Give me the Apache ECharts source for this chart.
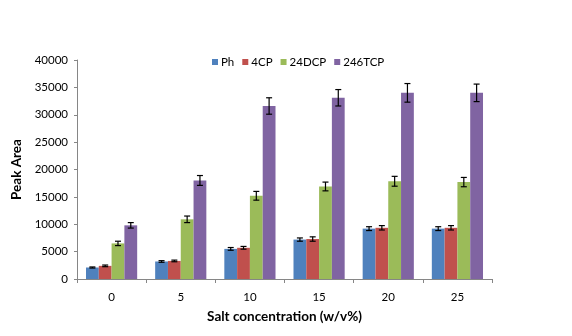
<!DOCTYPE html>
<html><head><meta charset="utf-8">
<script src="https://cdn.jsdelivr.net/npm/echarts@6/dist/echarts.min.js"></script>
<style>html,body{margin:0;padding:0;background:#fff}#c{width:572px;height:336px}</style>
</head><body><div id="c"></div>
<script>
var categories = ['0','5','10','15','20','25'];
var seriesNames = ['Ph','4CP','24DCP','246TCP'];
var ph = [2100, 3200, 5500, 7200, 9200, 9200];
var cp4 = [2400, 3300, 5700, 7300, 9350, 9350];
var dcp24 = [6500, 10900, 15200, 16900, 17850, 17700];
var tcp246 = [9800, 18000, 31600, 33100, 34000, 34000];
var phErr = [100, 150, 250, 300, 350, 350];
var cp4Err = [150, 150, 250, 400, 400, 400];
var dcp24Err = [400, 600, 800, 800, 900, 850];
var tcp246Err = [500, 900, 1500, 1500, 1700, 1600];
var yTicks = [0, 5000, 10000, 15000, 20000, 25000, 30000, 35000, 40000];

var colors = ['#4F81BD','#C0504D','#9BBB59','#8064A2'];
var values = [ph, cp4, dcp24, tcp246];
var errs = [phErr, cp4Err, dcp24Err, tcp246Err];
var font = 'Lato, Open Sans, sans-serif';
var catGap = 0.26;

var series = [];
values.forEach(function(v, i){
  series.push({name: seriesNames[i], type:'bar', data:v, barGap:'0%', barCategoryGap:'26%',
    itemStyle:{color:colors[i]}, z:2});
});
values.forEach(function(v, i){
  var data = v.map(function(val, k){ return [k, val - errs[i][k], val + errs[i][k]]; });
  series.push({type:'custom', z:5, silent:true, data:data,
    encode:{x:0, y:[1,2]},
    renderItem:function(params, api){
      var k = api.value(0);
      var band = api.size([1,0])[0];
      var bw = band*(1-catGap)/4;
      var off = (i - 1.5)*bw;
      var lo = api.coord([k, api.value(1)]);
      var hi = api.coord([k, api.value(2)]);
      var x = lo[0] + off;
      var hw = 3;
      var st = {stroke:'#000', lineWidth:1.2};
      return {type:'group', children:[
        {type:'line', shape:{x1:x, y1:lo[1], x2:x, y2:hi[1]}, style:st},
        {type:'line', shape:{x1:x-hw, y1:lo[1], x2:x+hw, y2:lo[1]}, style:st},
        {type:'line', shape:{x1:x-hw, y1:hi[1], x2:x+hw, y2:hi[1]}, style:st}
      ]};
    }});
});

var chart = echarts.init(document.getElementById('c'), null, {renderer:'canvas'});
chart.setOption({
  animation:false,
  textStyle:{fontFamily:font},
  legend:{data:seriesNames, left:207, top:51, itemWidth:6, itemHeight:6, itemGap:8,
    icon:'rect', textStyle:{fontSize:11.5, color:'#000', fontFamily:font, padding:[0,0,0,-2]}},
  grid:{left:77, right:80, top:60, bottom:57, containLabel:false},
  xAxis:{type:'category', data:categories,
    name:'Salt concentration (w/v%)', nameLocation:'middle', nameGap:31,
    nameTextStyle:{fontSize:13.5, fontWeight:'bold', color:'#000', fontFamily:font},
    axisLine:{lineStyle:{color:'#868686'}},
    axisTick:{show:true, length:4, lineStyle:{color:'#868686'}},
    axisLabel:{fontSize:11.5, color:'#000', margin:12, fontFamily:font}},
  yAxis:{type:'value', min:0, max:40000, interval:5000,
    name:'Peak Area', nameLocation:'middle', nameGap:52,
    nameTextStyle:{fontSize:13.5, fontWeight:'bold', color:'#000', fontFamily:font},
    axisLine:{show:true, lineStyle:{color:'#868686'}},
    axisTick:{show:true, length:3, lineStyle:{color:'#868686'}},
    splitLine:{show:false},
    axisLabel:{fontSize:11.5, color:'#000', margin:9, fontFamily:font,
      formatter:function(v){ return yTicks.indexOf(v) >= 0 ? String(v) : ''; }}},
  series:series
});
</script></body></html>
